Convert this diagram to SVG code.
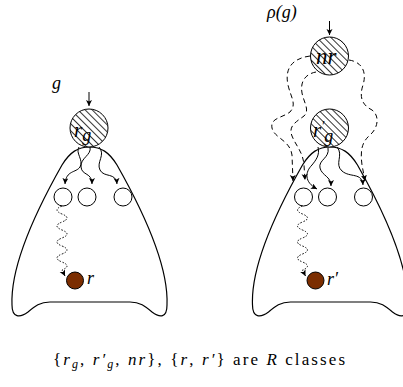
<svg xmlns="http://www.w3.org/2000/svg" width="403" height="387" viewBox="0 0 403 387">
<style>
.shape{fill:none;stroke:#000;stroke-width:1.2}
.node{fill:#fff;stroke:#000;stroke-width:1}
.hatch{fill:url(#hatch);stroke:#000;stroke-width:1}
.brown{fill:#7b2d00;stroke:#000;stroke-width:1}
.sol{fill:none;stroke:#000;stroke-width:1;marker-end:url(#ah)}
.dash{fill:none;stroke:#000;stroke-width:1;stroke-dasharray:5 3.5;marker-end:url(#ah)}
.dot{fill:none;stroke:#000;stroke-width:1;stroke-dasharray:1.5 1.5;marker-end:url(#ah)}
.m{font-style:italic}
</style>
<defs>
<pattern id="hatch" width="5" height="5" patternUnits="userSpaceOnUse" patternTransform="rotate(-45)">
<rect width="5" height="5" fill="#fff"/>
<line x1="2.5" y1="0" x2="2.5" y2="5" stroke="#000" stroke-width="0.8"/>
</pattern>
<marker id="ah" markerWidth="8" markerHeight="8" refX="6" refY="3" orient="auto" markerUnits="userSpaceOnUse">
<path d="M0,0 L6,3 L0,6 L1.5,3 Z" fill="#000"/>
</marker>
<path id="blob" d="M12,305 C10,260 45,195 62,165 C70,152 78,147 89.5,147 C101,147 109,152 117,165 C134,195 169,260 167,305 C167,318 160,318 152,312 C145,306 140,302 130,302 L50,302 C40,302 35,306 28,312 C20,318 12,318 12,305 Z"/>
</defs>

<g id="left-region"><use href="#blob" class="shape"/></g>
<g id="right-region"><use href="#blob" class="shape" transform="translate(240.5,0)"/></g>

<g id="connectors">
<line x1="89" y1="92" x2="89" y2="106" class="sol"/>
<line x1="329.5" y1="21" x2="329.5" y2="35" class="sol"/>
<path class="sol" d="M79,147 C75,153 84,160 80,167 C76,173 66,170 65,184"/>
<path class="sol" d="M90,147 C92,155 80,158 81,167 C82,176 92,172 92,184"/>
<path class="sol" d="M99,147 C106,155 96,162 100,170 C104,178 116,172 117,184"/>
<path class="dot" d="M62,206 q-10,4 0,8 t0,8 t0,8 t0,8 t0,8 t0,8 t0,8 t0,8 l3,6"/>
<path class="sol" d="M318,147 C320,155 316,160 312,165 C305,172 304,182 317,189"/>
<path class="sol" d="M328,148 C330,158 318,160 320,168 C322,176 331,176 331,186"/>
<path class="sol" d="M337,147 C344,155 334,164 342,171 C350,178 362,172 363,185"/>
<path class="dot" d="M302.5,206 q-10,4 0,8 t0,8 t0,8 t0,8 t0,8 t0,8 t0,8 t0,8 l3,6"/>
<path class="dash" d="M310,56 C295,58 284,66 288,85 C291,98 297,104 290,112 C282,118 270,118 272,128 C274,138 290,140 292,155 L293,181"/>
<path class="dash" d="M316,72 C305,74 300,82 302,93 C304,103 310,110 304,116 C296,122 288,126 292,136 C296,146 303,152 304,165 L305,180"/>
<path class="dash" d="M349,60 C362,62 367,72 363,85 C359,97 362,105 372,110 C380,116 378,128 370,135 C362,142 360,150 362,165 L365,181"/>
</g>

<g font-family="Liberation Serif, DejaVu Serif, Times New Roman, serif" fill="#000">
<g id="node-rg"><circle cx="89" cy="128" r="19" class="hatch"/><text class="m" x="74" y="137" font-size="21">r<tspan font-size="18" dy="4">g</tspan></text></g>
<g id="node-c1"><circle cx="63" cy="197" r="9" class="node"/></g>
<g id="node-c2"><circle cx="87" cy="197" r="9" class="node"/></g>
<g id="node-c3"><circle cx="123" cy="197" r="9" class="node"/></g>
<g id="node-r"><circle cx="75" cy="280.5" r="8.5" class="brown"/><text class="m" x="87" y="284" font-size="18">r</text></g>
<g id="label-g"><text class="m" x="52" y="89" font-size="18">g</text></g>

<g id="node-nr"><circle cx="329.5" cy="56" r="19" class="hatch"/><text class="m" x="316" y="64" font-size="23">nr</text></g>
<g id="node-rg2"><circle cx="329.5" cy="128" r="19" class="hatch"/><text class="m" x="313" y="137" font-size="21">r<tspan font-size="14" dy="-6">′</tspan><tspan font-size="18" dy="11">g</tspan></text></g>
<g id="node-c4"><circle cx="303.5" cy="197" r="9" class="node"/></g>
<g id="node-c5"><circle cx="327.5" cy="197" r="9" class="node"/></g>
<g id="node-c6"><circle cx="363.5" cy="197" r="9" class="node"/></g>
<g id="node-r2"><circle cx="315.5" cy="280.5" r="8.5" class="brown"/><text class="m" x="327" y="285" font-size="18">r′</text></g>
<g id="label-rho"><text class="m" x="267" y="18" font-size="18">ρ(g)</text></g>

<g id="caption"><text x="53" y="365" font-size="17" textLength="292" lengthAdjust="spacing">{<tspan class="m">r</tspan><tspan class="m" font-size="12" dy="3">g</tspan><tspan dy="-3">, </tspan><tspan class="m">r′</tspan><tspan class="m" font-size="12" dy="3">g</tspan><tspan dy="-3">, </tspan><tspan class="m">nr</tspan>}, {<tspan class="m">r</tspan>, <tspan class="m">r′</tspan>} are <tspan class="m">R</tspan> classes</text></g>
</g>
</svg>
